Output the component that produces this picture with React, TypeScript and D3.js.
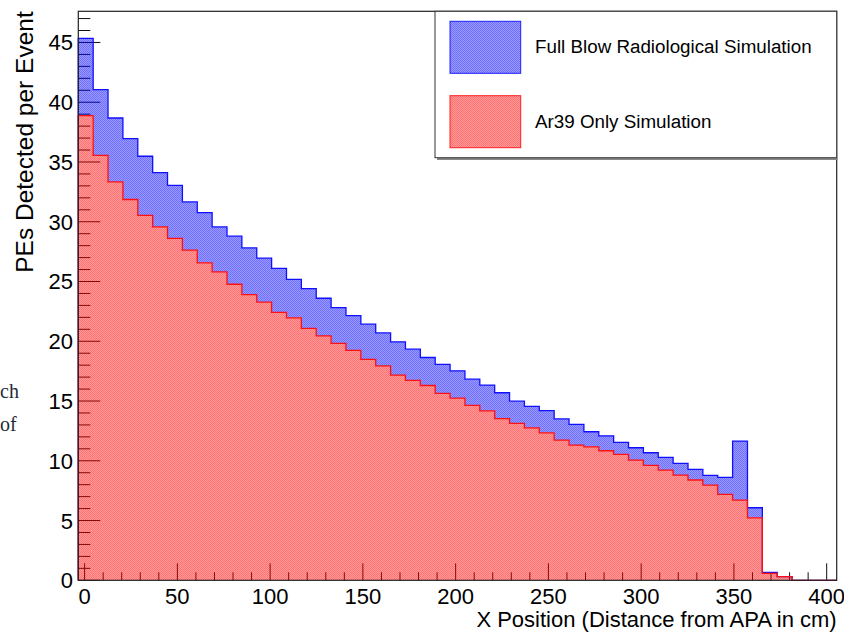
import React from "react";
import * as d3 from "d3";

// Bin contents (51 equal-width bins across the x range)
const fullBlow = [
  45.34, 41.05, 38.68, 36.96, 35.48, 34.11, 33.05, 31.66, 30.77, 29.57,
  28.79, 27.81, 26.95, 26.09, 25.17, 24.41, 23.6, 22.82, 22.15, 21.43,
  20.7, 19.95, 19.34, 18.64, 18.06, 17.53, 16.83, 16.33, 15.69, 14.99,
  14.55, 14.2, 13.5, 13.04, 12.43, 12.09, 11.54, 11.09, 10.67, 10.28,
  9.78, 9.28, 8.78, 8.61, 11.65, 6.07, 0.67, 0.3, 0, 0, 0,
];
const ar39 = [
  38.88, 35.56, 33.33, 31.86, 30.54, 29.57, 28.6, 27.62, 26.56, 25.8,
  24.77, 23.91, 23.27, 22.41, 21.96, 21.07, 20.45, 19.82, 19.23, 18.48,
  17.94, 17.17, 16.72, 16.3, 15.64, 15.24, 14.63, 14.18, 13.52, 13.13,
  12.76, 12.34, 11.73, 11.31, 11.17, 10.84, 10.54, 10.06, 9.62, 9.22,
  8.8, 8.39, 7.97, 7.19, 6.71, 5.23, 0.58, 0.3, 0, 0, 0,
];
const xRange = [-3.4, 405.4];
const xTickLabels = [0, 50, 100, 150, 200, 250, 300, 350, 400];
const yTickLabels = [0, 5, 10, 15, 20, 25, 30, 35, 40, 45];
const legendLabels = ["Full Blow Radiological Simulation", "Ar39 Only Simulation"];
const xTitle = "X Position (Distance from APA in cm)";
const yTitle = "PEs Detected per Event";
const strayText = ["ch", "of"];

const W = 844;
const H = 632;
const F = { left: 78.3, top: 11.3, right: 836.7, bottom: 580.3 };
const SANS = "'Liberation Sans', Arial, Helvetica, sans-serif";
const SERIF = "'Liberation Serif', 'DejaVu Serif', serif";

export default function App() {
  const x = d3.scaleLinear().domain(xRange).range([F.left, F.right]);
  const yMax = 1.05 * (d3.max(fullBlow) as number);
  const y = d3.scaleLinear().domain([0, yMax]).range([F.bottom, F.top]);
  const n = fullBlow.length;
  const bw = (xRange[1] - xRange[0]) / n;
  const edge = (i: number) => xRange[0] + i * bw;

  const stepPts = (vals: number[]) => [
    { x: edge(0), v: 0 },
    ...vals.flatMap((v, i) => [
      { x: edge(i), v },
      { x: edge(i + 1), v },
    ]),
    { x: edge(n), v: 0 },
  ];
  const line = d3
    .line<{ x: number; v: number }>()
    .x((d) => x(d.x))
    .y((d) => y(d.v));

  const bandPts = fullBlow.flatMap((v, i) => [
    { x: edge(i), hi: v, lo: ar39[i] },
    { x: edge(i + 1), hi: v, lo: ar39[i] },
  ]);
  const band = d3
    .area<{ x: number; hi: number; lo: number }>()
    .x((d) => x(d.x))
    .y0((d) => y(d.lo))
    .y1((d) => y(d.hi));
  const redArea = d3
    .area<{ x: number; v: number }>()
    .x((d) => x(d.x))
    .y0(() => y(0))
    .y1((d) => y(d.v));
  const redPts = ar39.flatMap((v, i) => [
    { x: edge(i), v },
    { x: edge(i + 1), v },
  ]);

  const yMinor = d3.range(0, Math.floor(yMax) + 1, 1).filter((v) => v % 5 !== 0);
  const xMinor = d3.range(0, 401, 10).filter((v) => v % 50 !== 0);

  const legX = 435;
  const legY = F.top;
  const legW = F.right - legX;
  const legH = 146.4;

  return (
    <div style={{ position: "absolute", left: 0, top: 0, width: W, height: H, background: "#fff" }}>
      <svg width={W} height={H} style={{ display: "block" }}>
        <defs>
          <pattern id="pBlue" width={2} height={2} patternUnits="userSpaceOnUse">
            <rect x={0} y={0} width={1} height={1} fill="rgba(0,0,255,0.56)" />
            <rect x={1} y={1} width={1} height={1} fill="rgba(0,0,255,0.56)" />
            <rect x={1} y={0} width={1} height={1} fill="rgba(0,0,255,0.4)" />
            <rect x={0} y={1} width={1} height={1} fill="rgba(0,0,255,0.4)" />
          </pattern>
          <pattern id="pRed" width={2} height={2} patternUnits="userSpaceOnUse">
            <rect x={0} y={0} width={1} height={1} fill="rgba(255,0,0,0.55)" />
            <rect x={1} y={1} width={1} height={1} fill="rgba(255,0,0,0.55)" />
            <rect x={1} y={0} width={1} height={1} fill="rgba(255,0,0,0.4)" />
            <rect x={0} y={1} width={1} height={1} fill="rgba(255,0,0,0.4)" />
          </pattern>
        </defs>

        {/* stray document text at left edge */}
        <text x={0} y={398} fontFamily={SERIF} fontSize={20} fill="#1f2a38">
          {strayText[0]}
        </text>
        <text x={0} y={431} fontFamily={SERIF} fontSize={20} fill="#1f2a38">
          {strayText[1]}
        </text>

        {/* ticks (drawn beneath fills) */}
        <g stroke="#111" strokeWidth={1}>
          {yTickLabels.map((v) => (
            <line key={"ym" + v} x1={F.left} x2={F.left + 22} y1={y(v)} y2={y(v)} />
          ))}
          {yMinor.map((v) => (
            <line key={"yn" + v} x1={F.left} x2={F.left + 12} y1={y(v)} y2={y(v)} />
          ))}
          {xTickLabels.map((v) => (
            <line key={"xm" + v} x1={x(v)} x2={x(v)} y1={F.bottom} y2={F.bottom - 17} />
          ))}
          {xMinor.map((v) => (
            <line key={"xn" + v} x1={x(v)} x2={x(v)} y1={F.bottom} y2={F.bottom - 8} />
          ))}
        </g>

        {/* histograms */}
        <path d={band(bandPts) as string} fill="url(#pBlue)" />
        <path d={redArea(redPts) as string} fill="url(#pRed)" />
        <path d={line(stepPts(fullBlow)) as string} fill="none" stroke="#1010ff" strokeWidth={1.3} />
        <path d={line(stepPts(ar39)) as string} fill="none" stroke="#ff1010" strokeWidth={1.3} />

        {/* frame */}
        <rect x={F.left} y={F.top} width={F.right - F.left} height={F.bottom - F.top} fill="none" stroke="#222" strokeWidth={1.2} />

        {/* tick labels */}
        <g fontFamily={SANS} fontSize={22} fill="#000">
          {yTickLabels.map((v) => (
            <text key={"yl" + v} x={73} y={y(v) + 8} textAnchor="end">
              {v}
            </text>
          ))}
          {xTickLabels.map((v) => (
            <text key={"xl" + v} x={x(v)} y={604} textAnchor="middle">
              {v}
            </text>
          ))}
        </g>

        {/* axis titles */}
        <text x={F.right} y={627} textAnchor="end" fontFamily={SANS} fontSize={22} fill="#000">
          {xTitle}
        </text>
        <text
          transform={`translate(33, ${F.top}) rotate(-90)`}
          textAnchor="end"
          fontFamily={SANS}
          fontSize={24.5}
          fill="#000"
        >
          {yTitle}
        </text>

        {/* legend */}
        <line x1={legX + 2} x2={F.right + 1} y1={legY + legH + 1.2} y2={legY + legH + 1.2} stroke="#888" strokeWidth={2} />
        <rect x={legX} y={legY} width={legW} height={legH} fill="#fff" stroke="#333" strokeWidth={1} />
        {legendLabels.map((lab, i) => {
          const sy = legY + 10 + i * 74.4;
          return (
            <g key={lab}>
              <rect
                x={legX + 15}
                y={sy}
                width={70.7}
                height={52}
                fill={i === 0 ? "url(#pBlue)" : "url(#pRed)"}
                stroke={i === 0 ? "#2020ff" : "#ff2020"}
                strokeWidth={1}
              />
              <text x={legX + 100} y={sy + 32} fontFamily={SANS} fontSize={18.8} fill="#000">
                {lab}
              </text>
            </g>
          );
        })}
      </svg>
    </div>
  );
}
